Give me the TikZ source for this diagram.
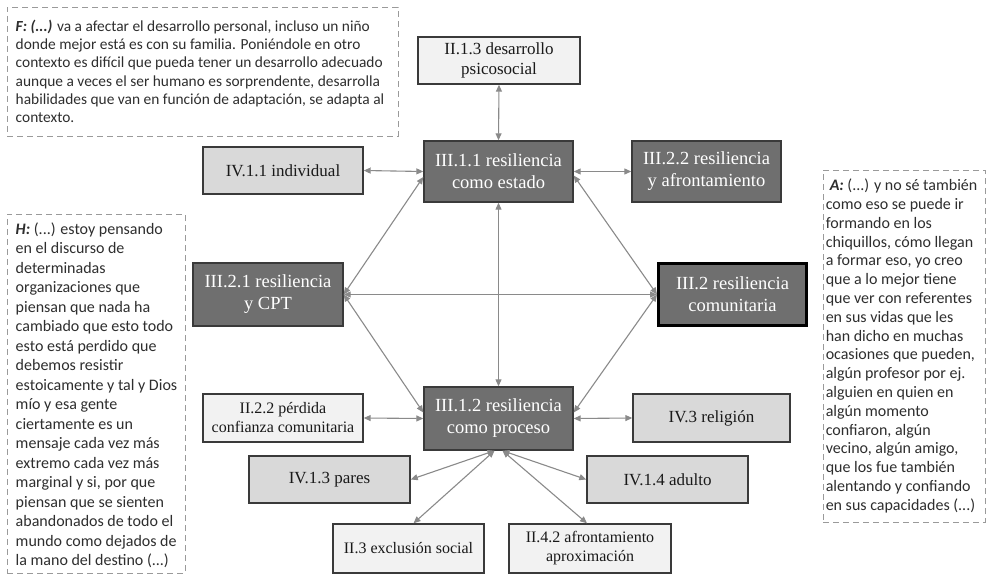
\documentclass[tikz,border=0pt]{standalone}
\usepackage{fontspec}
\setmainfont{Liberation Serif}
\newfontfamily\quotefont{Carlito}
\usetikzlibrary{arrows.meta,calc}

\definecolor{darkfill}{HTML}{6F6F6F}
\definecolor{midfill}{HTML}{D9D9D9}
\definecolor{lightfill}{HTML}{F2F2F2}
\definecolor{boxline}{HTML}{3A3A3A}
\definecolor{linkgray}{HTML}{8A8A8A}
\definecolor{dashgray}{HTML}{9A9A9A}
\definecolor{quotecol}{HTML}{2E2E2E}

\begin{document}
\begin{tikzpicture}[x=1pt,y=-1pt,
  box/.style={draw=boxline, line width=1.4pt, inner sep=2pt, align=center},
  darkbox/.style={box, fill=darkfill, text=white, font=\fontsize{18.5}{22}\selectfont},
  midbox/.style={box, fill=midfill, text=black!90, font=\fontsize{17}{20}\selectfont},
  lightbox/.style={box, fill=lightfill, text=black!90, font=\fontsize{16}{19}\selectfont},
  link/.style={draw=linkgray, line width=1.1pt,
    {Triangle[length=7pt,width=6pt]}-{Triangle[length=7pt,width=6pt]}},
  quotebox/.style={draw=dashgray, line width=0.9pt, dash pattern=on 6pt off 4pt, fill=white},
  quotetext/.style={font=\quotefont\fontsize{15.4}{18.3}\selectfont, align=left,
    inner sep=0pt, text=quotecol, anchor=west}
]
\useasboundingbox (0,0) rectangle (987,575);

% quotation panels
\node[quotebox, minimum width=391pt, minimum height=129pt] (fbox) at (202.5,71.5) {};
\node[quotetext] (ftext) at ($(fbox.west)+(9,0)$) {%
\textbf{\textit{F: (...)}} va a afectar el desarrollo personal, incluso un niño\\
donde mejor está es con su familia. Poniéndole en otro\\
contexto es difícil que pueda tener un desarrollo adecuado\\
aunque a veces el ser humano es sorprendente, desarrolla\\
habilidades que van en función de adaptación, se adapta al\\
contexto.};

\node[quotebox, minimum width=178pt, minimum height=359pt] (hbox) at (96,393.5) {};
\node[quotetext, font=\quotefont\fontsize{16}{19.5}\selectfont] (htext) at ($(hbox.west)+(9,2)$) {%
\textbf{\textit{H:}} (...) estoy pensando\\
en el discurso de\\
determinadas\\
organizaciones que\\
piensan que nada ha\\
cambiado que esto todo\\
esto está perdido que\\
debemos resistir\\
estoicamente y tal y Dios\\
mío y esa gente\\
ciertamente es un\\
mensaje cada vez más\\
extremo cada vez más\\
marginal y si, por que\\
piensan que se sienten\\
abandonados de todo el\\
mundo como dejados de\\
la mano del destino (...)};

\node[quotebox, minimum width=162pt, minimum height=352pt] (abox) at (904,346) {};
\node[quotetext, font=\quotefont\fontsize{16}{18.8}\selectfont] (atext) at ($(abox.west)+(3,0)$) {%
\hspace{4pt}\textbf{\textit{A:}} (...) y no sé también\\
como eso se puede ir\\
formando en los\\
chiquillos, cómo llegan\\
a formar eso, yo creo\\
que a lo mejor tiene\\
que ver con referentes\\
en sus vidas que les\\
han dicho en muchas\\
ocasiones que pueden,\\
algún profesor por ej.\\
alguien en quien en\\
algún momento\\
confiaron, algún\\
vecino, algún amigo,\\
que los fue también\\
alentando y confiando\\
en sus capacidades (...)};

% category boxes
\node[lightbox, font=\fontsize{17}{20}\selectfont, minimum width=162pt, minimum height=47pt] (b113) at (499,60.5) {II.1.3 desarrollo\\psicosocial};
\node[darkbox, minimum width=149pt, minimum height=61pt] (c111) at (498.5,171.5) {III.1.1 resiliencia\\como estado};
\node[midbox, minimum width=160pt, minimum height=47pt] (d111) at (283,170.5) {IV.1.1 individual};
\node[darkbox, minimum width=149pt, minimum height=61pt] (c22) at (706.5,171.5) {III.2.2 resiliencia\\y afrontamiento};
\node[darkbox, minimum width=150pt, minimum height=63pt] (c21) at (268,294.5) {III.2.1 resiliencia\\y CPT};
\node[darkbox, draw=black, line width=3pt, minimum width=148pt, minimum height=62pt] (c2) at (732.5,294.5) {III.2 resiliencia\\comunitaria};
\node[darkbox, minimum width=149pt, minimum height=63pt] (c112) at (498.5,418.5) {III.1.2 resiliencia\\como proceso};
\node[lightbox, minimum width=160pt, minimum height=48pt] (b22) at (283,418) {II.2.2 pérdida\\confianza comunitaria};
\node[midbox, minimum width=157pt, minimum height=48pt] (d3) at (711.5,418) {IV.3 religión};
\node[midbox, minimum width=161pt, minimum height=47pt] (d13) at (329.5,479.5) {IV.1.3 pares};
\node[midbox, minimum width=161pt, minimum height=47pt] (d14) at (667.5,479.5) {IV.1.4 adulto};
\node[lightbox, minimum width=151pt, minimum height=49pt] (b3) at (408.5,548.5) {II.3 exclusión social};
\node[lightbox, minimum width=162pt, minimum height=49pt] (b42) at (590,548.5) {II.4.2 afrontamiento\\aproximación};

% relations
\draw[link] (b113.south) -- (c111.north);
\draw[link] (d111.east) -- (c111.west);
\draw[link] (c111.east) -- (c22.west);
\draw[link] (c111.south) -- (c112.north);
\draw[link] (c21.east) -- ($(c111.west)+(0,5.5)$);
\draw[link] (c21.east) -- (c2.west);
\draw[link] (c21.east) -- ($(c112.west)+(0,-6)$);
\draw[link] (c2.west) -- ($(c111.east)+(0,4)$);
\draw[link] (c2.west) -- ($(c112.east)+(0,-6)$);
\draw[link] (b22.east) -- (c112.west);
\draw[link] (c112.east) -- (d3.west);
\draw[link] ($(c112.south)+(-4,0)$) -- (d13.east);
\draw[link] ($(c112.south)+(4,0)$) -- (d14.west);
\draw[link] ($(c112.south)+(-4,0)$) -- ($(b3.north)+(5,0)$);
\draw[link] ($(c112.south)+(4,0)$) -- ($(b42.north)+(-3,0)$);
\end{tikzpicture}
\end{document}
